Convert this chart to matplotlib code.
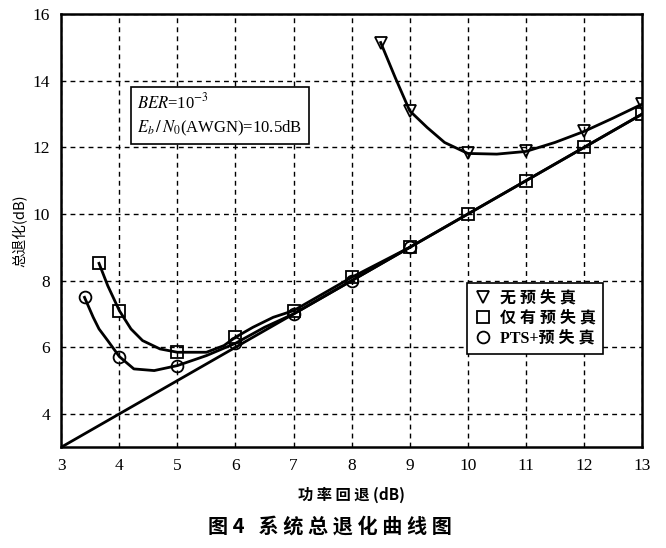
import matplotlib
matplotlib.use("Agg")
import matplotlib.pyplot as plt
from matplotlib.lines import Line2D

plt.rcParams["font.family"] = ["Liberation Serif", "Noto Sans CJK SC"]
plt.rcParams["mathtext.fontset"] = "stix"

# marker points
X_NO = [8.5, 9, 10, 11, 12, 13]
Y_NO = [15.15, 13.1, 11.82, 11.88, 12.48, 13.3]
X_PD = [3.65, 4, 5, 6, 7, 8, 9, 10, 11, 12, 13]
Y_PD = [8.52, 7.1, 5.85, 6.3, 7.1, 8.1, 9.0, 10.0, 11.0, 12.0, 13.0]
X_PTS = [3.4, 4, 5, 6, 7, 8, 9]
Y_PTS = [7.5, 5.72, 5.45, 6.12, 7.0, 8.0, 9.0]

# traced curve paths
CX_NO = [8.5, 8.75, 9, 9.3, 9.6, 10, 10.5, 11, 11.5, 12, 12.5, 13]
CY_NO = [15.15, 14.1, 13.1, 12.6, 12.15, 11.82, 11.8, 11.88, 12.15, 12.48, 12.88, 13.3]
CX_PD = [3.65, 3.8, 4, 4.2, 4.4, 4.7, 5, 5.5, 5.8, 6, 6.3, 6.65, 7, 8, 9, 10, 11, 12, 13]
CY_PD = [8.52, 7.85, 7.1, 6.55, 6.2, 5.95, 5.85, 5.85, 6.05, 6.3, 6.6, 6.9, 7.1, 8.1, 9.0, 10.0, 11.0, 12.0, 13.0]
CX_PTS = [3.4, 3.55, 3.65, 3.8, 4, 4.25, 4.6, 5, 5.5, 6, 6.5, 7, 8, 9]
CY_PTS = [7.5, 6.9, 6.55, 6.2, 5.72, 5.35, 5.3, 5.45, 5.75, 6.12, 6.6, 7.0, 8.0, 9.0]
# reference line
X_REF = [3, 13]
Y_REF = [3, 13]

X_TICKS = list(range(3, 14))
Y_TICKS = [4, 6, 8, 10, 12, 14, 16]

fig = plt.figure(figsize=(6.66, 5.48), dpi=100)
ax = fig.add_axes([0.092, 0.184, 0.872, 0.790])

LW = 2.0
ax.plot(X_REF, Y_REF, color="black", lw=LW, zorder=3)
ax.plot(CX_NO, CY_NO, color="black", lw=LW, zorder=3)
ax.plot(CX_PD, CY_PD, color="black", lw=LW, zorder=3)
ax.plot(CX_PTS, CY_PTS, color="black", lw=LW, zorder=3)

mk = dict(linestyle="none", markerfacecolor="none", markeredgecolor="black",
          markeredgewidth=1.3, markersize=8.5, zorder=4)
ax.plot(X_NO, Y_NO, marker="v", **mk)
ax.plot(X_PD, Y_PD, marker="s", **mk)
ax.plot(X_PTS, Y_PTS, marker="o", **mk)

ax.set_xlim(3, 13)
ax.set_ylim(3, 16)
ax.set_xticks(X_TICKS)
ax.set_yticks(Y_TICKS)
ax.tick_params(direction="in", length=0, labelsize=12.5, pad=8)
ax.grid(True, color="black", linestyle=(0, (3.5, 3)), linewidth=1.0)
for s in ax.spines.values():
    s.set_linewidth(1.8)

ax.set_ylabel("总退化(dB)", fontsize=10.5, family=["Noto Sans CJK SC"], labelpad=4)
ax.set_xlabel("功 率 回 退 (dB)", fontsize=11, family=["Noto Sans CJK SC"],
              fontweight="bold", labelpad=9)

ax.text(4.31, 12.97, r"$BER$=10$^{-3}$" + "\n" + r"$E_b\,/\,N_0$(AWGN)=10.5dB",
        fontsize=12, va="center", ha="left", linespacing=1.45,
        bbox=dict(boxstyle="square,pad=0.4", facecolor="white", edgecolor="black", lw=1.2),
        zorder=5)

handles = [Line2D([], [], marker=m, **mk) for m in ["v", "s", "o"]]
leg = ax.legend(handles, ["无 预 失 真", "仅 有 预 失 真", "PTS+预 失 真"],
                loc="upper right", bbox_to_anchor=(0.947, 0.397),
                prop={"family": ["Liberation Serif", "Noto Sans CJK SC"], "size": 11.5, "weight": "bold"},
                fancybox=False, framealpha=1, edgecolor="black", handlelength=1.0,
                handletextpad=0.6, borderpad=0.45, labelspacing=0.25)
leg.get_frame().set_linewidth(1.2)
leg.set_zorder(6)

fig.text(0.495, 0.04, "图 4   系 统 总 退 化 曲 线 图", ha="center", va="center",
         fontsize=14.5, fontweight="bold", family=["Noto Sans CJK SC"])

fig.savefig("out.png", dpi=100, facecolor="white")
